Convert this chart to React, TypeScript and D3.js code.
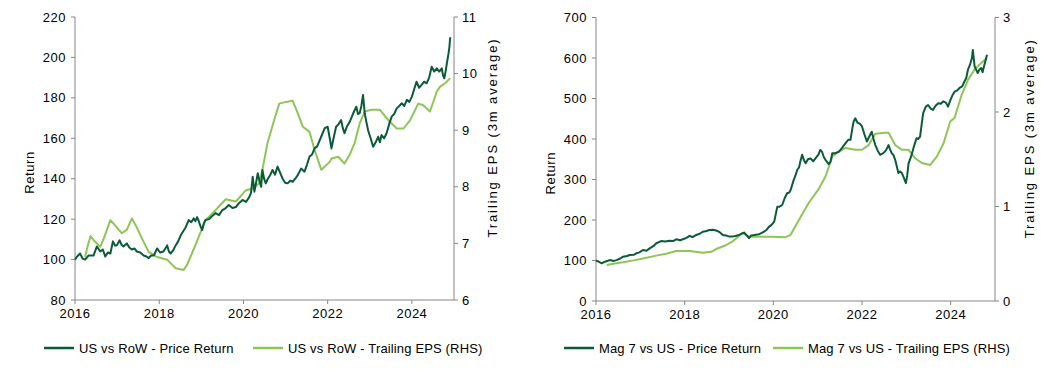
import React from "react";
import * as d3 from "d3";

// ---------- DATA ----------
const xTickYears = [2016, 2018, 2020, 2022, 2024];

const leftTicks = [80, 100, 120, 140, 160, 180, 200, 220];
const leftRhsTicks = [6, 7, 8, 9, 10, 11];
const rightTicks = [0, 100, 200, 300, 400, 500, 600, 700];
const rightRhsTicks = [0, 1, 2, 3];

const legendLeft = ["US vs RoW - Price Return", "US vs RoW - Trailing EPS (RHS)"];
const legendRight = ["Mag 7 vs US - Price Return", "Mag 7 vs US - Trailing EPS (RHS)"];

// [decimal year, value]
const usRowPrice: [number, number][] = [
  [2016.0, 100], [2016.05, 101.5], [2016.12, 103], [2016.18, 100.5], [2016.24, 100], [2016.32, 102],
  [2016.44, 102], [2016.52, 106.5], [2016.6, 104], [2016.66, 105], [2016.72, 101.5], [2016.78, 103.5],
  [2016.84, 103], [2016.9, 109], [2016.95, 107], [2016.99, 107], [2017.06, 109.5], [2017.1, 107.5],
  [2017.15, 106.5], [2017.23, 108], [2017.29, 106], [2017.35, 105], [2017.41, 105.5], [2017.47, 104],
  [2017.55, 103.5], [2017.63, 102], [2017.7, 101.5], [2017.75, 100.7], [2017.81, 102], [2017.87, 102],
  [2017.95, 105.5], [2018.02, 103.5], [2018.1, 104], [2018.19, 107], [2018.23, 104], [2018.27, 103],
  [2018.33, 104.5], [2018.39, 107], [2018.45, 109], [2018.51, 112], [2018.57, 114], [2018.63, 116],
  [2018.7, 119.5], [2018.76, 118.5], [2018.82, 120.4], [2018.86, 119], [2018.9, 121], [2018.94, 119],
  [2018.97, 117], [2019.02, 114.6], [2019.06, 118], [2019.1, 119.6], [2019.18, 120], [2019.26, 121.5],
  [2019.34, 123], [2019.42, 122], [2019.5, 124.5], [2019.58, 125.5], [2019.65, 127], [2019.74, 125.5],
  [2019.82, 126], [2019.9, 128], [2019.98, 129.5], [2020.06, 128.5], [2020.14, 131], [2020.18, 133],
  [2020.22, 141], [2020.26, 133.6], [2020.3, 138], [2020.34, 142.7], [2020.38, 139], [2020.42, 136],
  [2020.45, 144.3], [2020.49, 140], [2020.53, 137.7], [2020.58, 140], [2020.64, 142], [2020.69, 144.3],
  [2020.75, 142], [2020.81, 146], [2020.87, 143], [2020.93, 140], [2020.99, 138], [2021.05, 137.7],
  [2021.11, 139], [2021.17, 138.5], [2021.23, 140], [2021.29, 141.8], [2021.37, 145], [2021.45, 143.5],
  [2021.51, 147], [2021.57, 151], [2021.63, 152], [2021.69, 155], [2021.75, 156], [2021.81, 159],
  [2021.87, 162], [2021.93, 165], [2022.0, 165.7], [2022.05, 160], [2022.09, 155], [2022.14, 160],
  [2022.2, 165.7], [2022.26, 167], [2022.32, 169], [2022.36, 165], [2022.4, 162.5], [2022.46, 166],
  [2022.52, 168], [2022.56, 170], [2022.62, 173], [2022.68, 175.6], [2022.72, 172], [2022.76, 172.4],
  [2022.8, 176], [2022.84, 181.4], [2022.88, 172.4], [2022.92, 168], [2022.96, 164], [2023.02, 160],
  [2023.08, 155.8], [2023.14, 158], [2023.2, 160.8], [2023.24, 158], [2023.28, 161.6], [2023.34, 160],
  [2023.4, 162.5], [2023.46, 167], [2023.52, 170.7], [2023.58, 172], [2023.64, 174.8], [2023.7, 176],
  [2023.76, 177.3], [2023.82, 176], [2023.88, 179], [2023.94, 178], [2024.0, 180.6], [2024.05, 184],
  [2024.11, 188], [2024.17, 185], [2024.23, 186.4], [2024.29, 188], [2024.35, 187.2], [2024.41, 190],
  [2024.47, 195.4], [2024.53, 193], [2024.59, 194.6], [2024.65, 193], [2024.71, 194.6], [2024.74, 191],
  [2024.77, 189.7], [2024.8, 193], [2024.83, 197], [2024.87, 202], [2024.89, 205], [2024.91, 210],
];

const usRowEps: [number, number][] = [
  [2016.24, 6.76], [2016.3, 6.95], [2016.37, 7.13], [2016.45, 7.05], [2016.6, 6.94], [2016.7, 7.12],
  [2016.84, 7.41], [2016.95, 7.32], [2017.11, 7.18], [2017.23, 7.24], [2017.35, 7.44], [2017.47, 7.28],
  [2017.59, 7.09], [2017.75, 6.85], [2017.95, 6.76], [2018.19, 6.71], [2018.3, 6.63], [2018.39, 6.56],
  [2018.58, 6.53], [2018.66, 6.62], [2018.74, 6.76], [2018.85, 6.95], [2018.94, 7.12], [2019.1, 7.41],
  [2019.34, 7.59], [2019.58, 7.78], [2019.82, 7.74], [2020.06, 7.94], [2020.22, 7.97], [2020.37, 8.06],
  [2020.45, 8.3], [2020.57, 8.77], [2020.73, 9.18], [2020.85, 9.47], [2021.01, 9.5], [2021.17, 9.52],
  [2021.29, 9.3], [2021.41, 9.06], [2021.57, 8.97], [2021.69, 8.65], [2021.85, 8.3], [2022.05, 8.44],
  [2022.09, 8.5], [2022.25, 8.53], [2022.4, 8.41], [2022.52, 8.56], [2022.64, 8.77], [2022.76, 9.12],
  [2022.88, 9.33], [2023.04, 9.36], [2023.24, 9.36], [2023.44, 9.18], [2023.64, 9.03], [2023.8, 9.03],
  [2023.96, 9.18], [2024.15, 9.47], [2024.27, 9.44], [2024.43, 9.33], [2024.59, 9.68], [2024.67, 9.77],
  [2024.79, 9.83], [2024.91, 9.92],
];

const mag7Price: [number, number][] = [
  [2016.0, 100], [2016.06, 97], [2016.13, 93], [2016.2, 97], [2016.31, 101], [2016.4, 99],
  [2016.46, 101], [2016.55, 105], [2016.61, 109.5], [2016.7, 111], [2016.76, 113.7], [2016.85, 114],
  [2016.91, 117.8], [2016.98, 120], [2017.06, 126], [2017.14, 124], [2017.21, 130], [2017.3, 136],
  [2017.36, 142.6], [2017.47, 148], [2017.56, 147], [2017.66, 149], [2017.74, 148], [2017.81, 152.4],
  [2017.9, 150], [2017.96, 152.4], [2018.04, 156], [2018.11, 160.6], [2018.18, 158], [2018.26, 163],
  [2018.34, 166], [2018.41, 171], [2018.49, 173], [2018.56, 175.4], [2018.64, 176], [2018.71, 174],
  [2018.79, 170], [2018.86, 163], [2018.93, 162], [2019.01, 159], [2019.08, 159], [2019.16, 161],
  [2019.23, 163], [2019.3, 167], [2019.34, 169], [2019.4, 162], [2019.45, 155], [2019.5, 162],
  [2019.57, 163], [2019.68, 165], [2019.74, 168], [2019.79, 171], [2019.85, 176], [2019.9, 183],
  [2019.96, 188], [2020.02, 196], [2020.09, 233], [2020.14, 233], [2020.2, 237], [2020.26, 255],
  [2020.31, 266], [2020.36, 268], [2020.39, 274], [2020.46, 299], [2020.5, 310], [2020.54, 324],
  [2020.58, 330], [2020.61, 345], [2020.65, 361], [2020.69, 348], [2020.73, 340], [2020.78, 350],
  [2020.84, 352], [2020.9, 345], [2020.95, 352], [2021.02, 362], [2021.06, 373], [2021.1, 368],
  [2021.14, 355], [2021.18, 348], [2021.25, 338], [2021.29, 344], [2021.33, 365], [2021.4, 365],
  [2021.48, 369], [2021.55, 378], [2021.63, 390], [2021.69, 398], [2021.74, 398], [2021.78, 425],
  [2021.81, 443], [2021.85, 451], [2021.9, 440], [2021.95, 438], [2022.0, 431], [2022.06, 410],
  [2022.11, 394], [2022.16, 405], [2022.22, 418], [2022.26, 400], [2022.3, 385], [2022.36, 370],
  [2022.41, 361], [2022.48, 365], [2022.54, 372], [2022.6, 385], [2022.63, 375], [2022.67, 365],
  [2022.71, 360], [2022.75, 348], [2022.79, 330], [2022.82, 316], [2022.86, 320], [2022.9, 316],
  [2022.94, 305], [2022.99, 291], [2023.02, 310], [2023.05, 340], [2023.12, 361], [2023.18, 385],
  [2023.23, 402], [2023.27, 400], [2023.31, 406], [2023.35, 440], [2023.38, 464], [2023.44, 480],
  [2023.49, 484], [2023.55, 475], [2023.6, 472], [2023.66, 482], [2023.72, 488], [2023.78, 487],
  [2023.83, 493], [2023.89, 490], [2023.94, 480], [2024.0, 498], [2024.05, 510], [2024.09, 517],
  [2024.15, 520], [2024.2, 526], [2024.26, 530], [2024.31, 542], [2024.35, 550], [2024.39, 571],
  [2024.44, 585], [2024.48, 600], [2024.5, 620], [2024.52, 600], [2024.54, 579], [2024.58, 570],
  [2024.61, 563], [2024.65, 572], [2024.69, 575], [2024.72, 565], [2024.76, 583], [2024.79, 595],
  [2024.82, 608],
];

const mag7Eps: [number, number][] = [
  [2016.24, 0.38], [2016.45, 0.4], [2016.61, 0.41], [2016.85, 0.43], [2017.06, 0.45], [2017.36, 0.48],
  [2017.58, 0.5], [2017.81, 0.53], [2018.11, 0.53], [2018.41, 0.51], [2018.6, 0.52], [2018.71, 0.55],
  [2018.93, 0.59], [2019.08, 0.63], [2019.3, 0.72], [2019.45, 0.68], [2019.68, 0.68], [2019.98, 0.68],
  [2020.28, 0.675], [2020.39, 0.7], [2020.58, 0.86], [2020.8, 1.04], [2021.03, 1.19], [2021.18, 1.32],
  [2021.33, 1.53], [2021.48, 1.58], [2021.63, 1.62], [2021.85, 1.6], [2022.0, 1.6], [2022.15, 1.65],
  [2022.3, 1.77], [2022.52, 1.78], [2022.6, 1.78], [2022.75, 1.65], [2022.9, 1.6], [2023.05, 1.6],
  [2023.2, 1.51], [2023.35, 1.46], [2023.54, 1.44], [2023.69, 1.53], [2023.84, 1.67], [2023.99, 1.9],
  [2024.09, 1.94], [2024.24, 2.17], [2024.39, 2.34], [2024.54, 2.45], [2024.69, 2.52], [2024.82, 2.57],
];

// ---------- STYLE ----------
const DARK = "#0B5B38";
const LIGHT = "#8DC657";
const AXIS = "#868686";
const FONT = "'Liberation Sans', Arial, sans-serif";
const FS = 13;

type PanelProps = {
  x0: number; x1: number; y0: number; y1: number;
  leftDomain: [number, number]; rightDomain: [number, number];
  leftTicks: number[]; rightTicks: number[];
  price: [number, number][]; eps: [number, number][];
  legend: string[]; legendX: number[];
  returnLabelX: number; epsLabelX: number;
};

function Panel(p: PanelProps) {
  const x = d3.scaleLinear().domain([2016, 2025]).range([p.x0, p.x1]);
  const yL = d3.scaleLinear().domain(p.leftDomain).range([p.y1, p.y0]);
  const yR = d3.scaleLinear().domain(p.rightDomain).range([p.y1, p.y0]);
  const lineL = d3.line<[number, number]>().x((d) => x(d[0])).y((d) => yL(d[1]));
  const lineR = d3.line<[number, number]>().x((d) => x(d[0])).y((d) => yR(d[1]));
  const midY = (p.y0 + p.y1) / 2;
  return (
    <g fontFamily={FONT} fontSize={FS} fill="#000">
      {/* axes */}
      <line x1={p.x0} x2={p.x0} y1={p.y0} y2={p.y1} stroke={AXIS} />
      <line x1={p.x1} x2={p.x1} y1={p.y0} y2={p.y1} stroke={AXIS} />
      <line x1={p.x0} x2={p.x1} y1={p.y1} y2={p.y1} stroke={AXIS} />
      {p.leftTicks.map((t) => (
        <g key={"l" + t}>
          <line x1={p.x0 - 4} x2={p.x0} y1={yL(t)} y2={yL(t)} stroke={AXIS} />
          <text x={p.x0 - 9} y={yL(t)} dy="0.35em" textAnchor="end" letterSpacing={0.5}>{t}</text>
        </g>
      ))}
      {p.rightTicks.map((t) => (
        <g key={"r" + t}>
          <line x1={p.x1} x2={p.x1 + 4} y1={yR(t)} y2={yR(t)} stroke={AXIS} />
          <text x={p.x1 + 8} y={yR(t)} dy="0.35em" textAnchor="start" letterSpacing={0.5}>{t}</text>
        </g>
      ))}
      {xTickYears.map((t) => (
        <g key={"x" + t}>
          <line x1={x(t)} x2={x(t)} y1={p.y1} y2={p.y1 + 4} stroke={AXIS} />
          <text x={x(t)} y={p.y1 + 18} textAnchor="middle" letterSpacing={0.5}>{t}</text>
        </g>
      ))}
      <text transform={`translate(${p.returnLabelX},${midY + 14}) rotate(-90)`} textAnchor="middle" letterSpacing={0.6}>Return</text>
      <text transform={`translate(${p.epsLabelX},${midY - 21}) rotate(-90)`} textAnchor="middle" letterSpacing={1.9}>Trailing EPS (3m average)</text>
      {/* lines */}
      <path d={lineR(p.eps) || ""} fill="none" stroke={LIGHT} strokeWidth={2} strokeLinejoin="round" />
      <path d={lineL(p.price) || ""} fill="none" stroke={DARK} strokeWidth={2} strokeLinejoin="round" />
      {/* legend */}
      {p.legend.map((s, i) => (
        <g key={s}>
          <line x1={p.legendX[i]} x2={p.legendX[i] + 30} y1={348} y2={348} stroke={i === 0 ? DARK : LIGHT} strokeWidth={2.5} />
          <text x={p.legendX[i] + 35} y={348} dy="0.35em" letterSpacing={0.15}>{s}</text>
        </g>
      ))}
    </g>
  );
}

export default function App() {
  return (
    <svg width={1055} height={370} style={{ position: "absolute", left: 0, top: 0, background: "#fff" }}>
      <rect width={1055} height={370} fill="#fff" />
      <Panel
        x0={75} x1={454} y0={17} y1={300}
        leftDomain={[80, 220]} rightDomain={[6, 11]}
        leftTicks={leftTicks} rightTicks={leftRhsTicks}
        price={usRowPrice} eps={usRowEps}
        legend={legendLeft} legendX={[44, 253]}
        returnLabelX={34} epsLabelX={497}
      />
      <Panel
        x0={596} x1={995} y0={17.5} y1={301}
        leftDomain={[0, 700]} rightDomain={[0, 3]}
        leftTicks={rightTicks} rightTicks={rightRhsTicks}
        price={mag7Price} eps={mag7Eps}
        legend={legendRight} legendX={[564, 773]}
        returnLabelX={555} epsLabelX={1034}
      />
    </svg>
  );
}
